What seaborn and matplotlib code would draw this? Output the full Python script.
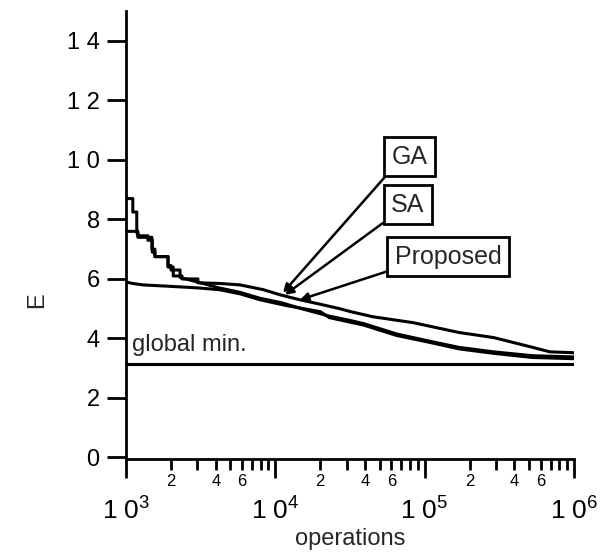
import numpy as np
import pandas as pd
import matplotlib
matplotlib.use("Agg")
import matplotlib.pyplot as plt
import seaborn as sns
from matplotlib.ticker import FixedLocator

# energy E vs. number of operations
# (repeated x values = vertical risers of the early staircase)
ga_ops = [1000, 1110, 1110, 1180, 1180, 1200, 1200, 1490, 1490, 1560, 1560, 1910, 1910,
          2070, 2070, 2370, 2370, 3030, 3030, 4200, 5800, 8300, 10700, 14600, 20000,
          27000, 32000, 45000, 84000, 170000, 290000, 530000, 690000, 1000000]
ga_e = [8.7, 8.7, 8.25, 8.25, 7.55, 7.55, 7.4, 7.4, 7.0, 7.0, 6.75, 6.75, 6.4,
        6.4, 6.1, 6.1, 6.0, 6.0, 5.87, 5.85, 5.8, 5.64, 5.47, 5.3, 5.15,
        5.0, 4.9, 4.73, 4.53, 4.2, 4.03, 3.7, 3.55, 3.52]

sa_ops = [1000, 1200, 1200, 1400, 1400, 1500, 1500, 1560, 1560, 1910, 1910, 2000, 2000,
          2300, 2300, 3000, 4200, 5800, 7900, 11000, 15000, 23000, 32000, 39000, 65000,
          110000, 170000, 290000, 530000, 1000000]
sa_e = [7.6, 7.6, 7.45, 7.45, 7.3, 7.3, 6.9, 6.9, 6.75, 6.75, 6.45, 6.45, 6.3,
        6.3, 6.05, 5.9, 5.7, 5.55, 5.35, 5.2, 5.0, 4.75, 4.6, 4.5, 4.15,
        3.9, 3.7, 3.55, 3.42, 3.38]

pr_ops = [1000, 1100, 1300, 2000, 3000, 4200, 5800, 7900, 12000, 20000, 23000, 39000,
          65000, 110000, 170000, 290000, 530000, 1000000]
pr_e = [5.9, 5.85, 5.8, 5.75, 5.7, 5.64, 5.5, 5.3, 5.1, 4.9, 4.7, 4.45,
        4.1, 3.86, 3.65, 3.5, 3.36, 3.32]

global_min = 3.15

y_ticks = [0, 2, 4, 6, 8, 10, 12, 14]
y_labels = ["0", "2", "4", "6", "8", "1 0", "1 2", "1 4"]
decades = [1e3, 1e4, 1e5, 1e6]
decade_labels = ["1 0$^{3}$", "1 0$^{4}$", "1 0$^{5}$", "1 0$^{6}$"]

df = pd.concat([
    pd.DataFrame({"operations": ga_ops, "E": ga_e, "method": "GA"}),
    pd.DataFrame({"operations": sa_ops, "E": sa_e, "method": "SA"}),
    pd.DataFrame({"operations": pr_ops, "E": pr_e, "method": "Proposed"}),
])

sns.set_theme(style="ticks")
plt.rcParams["font.family"] = ["Liberation Sans", "DejaVu Sans"]
plt.rcParams["mathtext.fontset"] = "custom"
plt.rcParams["mathtext.rm"] = "Liberation Sans"
plt.rcParams["mathtext.it"] = "Liberation Sans"

fig = plt.figure(figsize=(6.06, 5.57), dpi=100)
ax = fig.add_axes([0.208, 0.176, 0.739, 0.804])

sns.lineplot(data=df, x="operations", y="E", units="method", estimator=None,
             color="black", linewidth=2.2, ax=ax, sort=False)
ax.axhline(global_min, color="black", linewidth=2.2)

ax.set_xscale("log")
ax.set_xlim(1e3, 1e6)
ax.set_ylim(-0.05, 15.0)
sns.despine(ax=ax)
for s in ["left", "bottom"]:
    ax.spines[s].set_linewidth(2)
    ax.spines[s].set_color("black")

ax.set_yticks(y_ticks, labels=y_labels)
ax.tick_params(axis="y", direction="out", length=14, width=2, labelsize=17, pad=5, colors="black")

ax.set_xticks(decades, labels=decade_labels)
minor = [m * 10 ** k for k in (3, 4, 5) for m in range(2, 10)]
minor_labels = [("%d" % m if m in (2, 4, 6) else "") for k in (3, 4, 5) for m in range(2, 10)]
ax.xaxis.set_minor_locator(FixedLocator(minor))
ax.set_xticks(minor, labels=minor_labels, minor=True)
ax.tick_params(axis="x", which="major", direction="out", length=14, width=2,
               labelsize=19, pad=14, colors="black")
ax.tick_params(axis="x", which="minor", direction="out", length=8, width=2,
               labelsize=12, pad=3, colors="black")

ax.set_xlabel("operations", fontsize=17, labelpad=2)
ax.set_ylabel("E", fontsize=17)
ax.yaxis.set_label_coords(-0.175, 0.355)
ax.grid(False)

ax.text(1100, 3.4, "global min.", fontsize=17, va="bottom", ha="left")

box = dict(boxstyle="square,pad=0.3", fc="white", ec="black", lw=2)
arrow = dict(arrowstyle="-|>", color="black", lw=1.8, relpos=(0, 0), shrinkA=0, shrinkB=0,
             mutation_scale=12)
ax.annotate("GA", xy=(11270, 5.54), xytext=(79800, 10.1), fontsize=18, ha="center",
            va="center", bbox=box, arrowprops=arrow)
ax.annotate("SA", xy=(11620, 5.47), xytext=(77400, 8.49), fontsize=18, ha="center",
            va="center", bbox=box, arrowprops=arrow)
ax.annotate("Proposed", xy=(14620, 5.3), xytext=(143600, 6.74), fontsize=18, ha="center",
            va="center", bbox=box, arrowprops=arrow)

fig.savefig("out.png", dpi=100)
